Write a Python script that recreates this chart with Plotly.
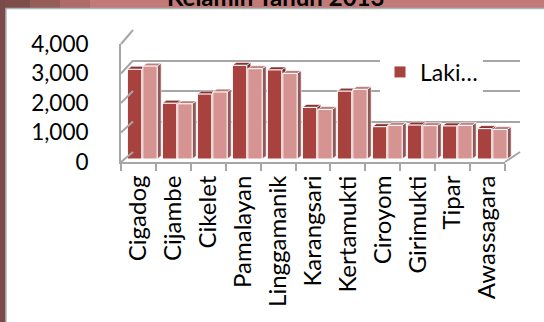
import plotly.graph_objects as go

# ---------------- data ----------------
categories = ["Cigadog", "Cijambe", "Cikelet", "Pamalayan", "Linggamanik", "Karangsari",
              "Kertamukti", "Ciroyom", "Girimukti", "Tipar", "Awassagara"]
laki = [3040, 1890, 2200, 3175, 3020, 1750, 2300, 1095, 1150, 1120, 1030]
perempuan = [3150, 1870, 2270, 3060, 2900, 1680, 2360, 1140, 1130, 1140, 1000]
y_ticks = [0, 1000, 2000, 3000, 4000]
legend_label = "Laki…"
title_text = "Kelamin Tahun 2013"

W, H = 544, 322
def px(x):
    return x / W
def py(y):
    return 1 - y / H

FONT = "Lato"
DARK, LIGHT = "#A8423F", "#D59391"
DARK_TOP, LIGHT_TOP = "#8A3230", "#BE7F7D"
DARK_SIDE, LIGHT_SIDE = "#7A2C2A", "#8E5858"
GRID = "#A6A6A6"

fig = go.Figure()

# front axes (labels) - invisible carrier trace
fig.add_trace(go.Scatter(x=categories, y=laki, mode="markers", marker=dict(opacity=0),
                         showlegend=False, hoverinfo="skip", xaxis="x", yaxis="y"))
# back wall axes carrier
fig.add_trace(go.Scatter(x=[0, 1], y=[0, 0], mode="markers", marker=dict(opacity=0),
                         showlegend=False, hoverinfo="skip", xaxis="x2", yaxis="y2"))

# 3D faces (tops and sides) derived from the data
dx, dy = 0.115, 100
series = [(laki, -0.46, 0.41, DARK_TOP, DARK_SIDE), (perempuan, -0.02, 0.41, LIGHT_TOP, LIGHT_SIDE)]
for vals, off, w, ctop, cside in series:
    sx, sy, tx, ty = [], [], [], []
    for i, v in enumerate(vals):
        xl, xr = i + off, i + off + w
        sx += [xr, xr, xr + dx, xr + dx, xr, None]
        sy += [0, v, v + dy, dy, 0, None]
        tx += [xl, xr, xr + dx, xl + dx, xl, None]
        ty += [v, v, v + dy, v + dy, v, None]
    fig.add_trace(go.Scatter(x=sx, y=sy, fill="toself", fillcolor=cside, mode="lines",
                             line=dict(color="white", width=0.6), showlegend=False,
                             hoverinfo="skip", xaxis="x3", yaxis="y3"))
    fig.add_trace(go.Scatter(x=tx, y=ty, fill="toself", fillcolor=ctop, mode="lines",
                             line=dict(color="white", width=0.6), showlegend=False,
                             hoverinfo="skip", xaxis="x3", yaxis="y3"))

xs = list(range(len(categories)))
fig.add_trace(go.Bar(x=xs, y=laki, offset=-0.46, width=0.41, marker=dict(color=DARK, line=dict(color="white", width=1)),
                     name=legend_label, showlegend=True, xaxis="x4", yaxis="y4"))
fig.add_trace(go.Bar(x=xs, y=perempuan, offset=-0.02, width=0.41, marker=dict(color=LIGHT, line=dict(color="white", width=1)),
                     name="Perempuan", showlegend=False, xaxis="x4", yaxis="y4"))

# geometry
FX0, FX1, FY0, FY1 = 121, 505, 162, 44      # front frame
BX0, BX1, BY0, BY1 = 133, 520, 152, 30      # back wall
BarX0, BarY0, BarY1 = 126, 159, 41
ncat = len(categories)
xr_hi = ncat - 0.5 + 0.1
BarX1 = BarX0 + 35 * (xr_hi + 0.5)

fig.update_layout(
    width=W, height=H, margin=dict(l=0, r=0, t=0, b=0, autoexpand=False),
    paper_bgcolor="white", plot_bgcolor="rgba(0,0,0,0)",
    font=dict(family=FONT, size=22, color="black"),
    barmode="overlay",
    xaxis=dict(domain=[px(FX0), px(FX1)], type="category", range=[-0.5, ncat - 0.5],
               tickson="boundaries", ticks="outside", ticklen=7, tickcolor=GRID, tickwidth=2,
               showline=True, linecolor=GRID, linewidth=2, showgrid=False, tickangle=-90,
               tickfont=dict(family=FONT, size=24), ticklabelstandoff=2, fixedrange=True, automargin=False),
    yaxis=dict(domain=[py(FY0), py(FY1)], range=[0, 4000], tickvals=y_ticks, tickformat=",d",
               showline=True, linecolor=GRID, linewidth=2, showgrid=False, zeroline=False,
               ticks="", tickfont=dict(family=FONT, size=22.5), ticklabelstandoff=26, automargin=False),
    xaxis2=dict(domain=[px(BX0), px(BX1)], range=[0, 1], visible=False),
    yaxis2=dict(domain=[py(BY0), py(BY1)], range=[0, 4000], tickvals=y_ticks, showgrid=True,
                gridcolor=GRID, gridwidth=2, zeroline=False, showticklabels=False, anchor="x2"),
    xaxis3=dict(domain=[px(BarX0), px(BarX1)], range=[-0.5, xr_hi], visible=False, anchor="y3"),
    yaxis3=dict(domain=[py(BarY0), py(BarY1)], range=[0, 4000], visible=False, anchor="x3"),
    xaxis4=dict(overlaying="x3", range=[-0.5, xr_hi], visible=False, anchor="y4"),
    yaxis4=dict(overlaying="y3", range=[0, 4000], visible=False, anchor="x4"),
    legend=dict(x=px(380), y=py(72), xanchor="left", yanchor="middle", bgcolor="white",
                font=dict(family=FONT, size=23), itemwidth=30, borderwidth=0),
    showlegend=True,
)

shapes = []
# left wall diagonals for grid values and top edge
for v in y_ticks:
    yf = FY0 - (FY0 - FY1) * v / 4000
    yb = BY0 - (BY0 - BY1) * v / 4000
    shapes.append(dict(type="line", xref="paper", yref="paper", x0=px(FX0), y0=py(yf), x1=px(BX0), y1=py(yb),
                       line=dict(color=GRID, width=2)))
# right floor diagonal
shapes.append(dict(type="line", xref="paper", yref="paper", x0=px(FX1), y0=py(FY0), x1=px(BX1), y1=py(BY0),
                   line=dict(color=GRID, width=2)))
# slide decoration: top band and left strip
shapes += [
    dict(type="rect", xref="paper", yref="paper", x0=0, x1=1, y0=py(8), y1=1, fillcolor="#C17A78", line_width=0),
    dict(type="rect", xref="paper", yref="paper", x0=0, x1=px(30), y0=py(8), y1=1, fillcolor="#7E4C4B", line_width=0),
    dict(type="rect", xref="paper", yref="paper", x0=px(30), x1=px(60), y0=py(8), y1=1, fillcolor="#955C5A", line_width=0),
    dict(type="rect", xref="paper", yref="paper", x0=px(60), x1=px(90), y0=py(8), y1=1, fillcolor="#AD6B69", line_width=0),
    dict(type="line", xref="paper", yref="paper", x0=0, x1=1, y0=py(8.5), y1=py(8.5), line=dict(color="#A8B8B8", width=1.5)),
    dict(type="rect", xref="paper", yref="paper", x0=0, x1=px(5), y0=0, y1=1, fillcolor="#7B4A4A", line_width=0),
    dict(type="line", xref="paper", yref="paper", x0=px(5.8), x1=px(5.8), y0=0, y1=py(8), line=dict(color="#9C9C9C", width=1.5)),
]
fig.update_layout(shapes=shapes)

fig.add_annotation(text="<b>" + title_text + "</b>", xref="paper", yref="paper", x=px(275), y=py(12),
                   xanchor="center", yanchor="bottom", showarrow=False, borderpad=0,
                   font=dict(family=FONT, size=24, color="black"))

fig.write_html("out.html")
